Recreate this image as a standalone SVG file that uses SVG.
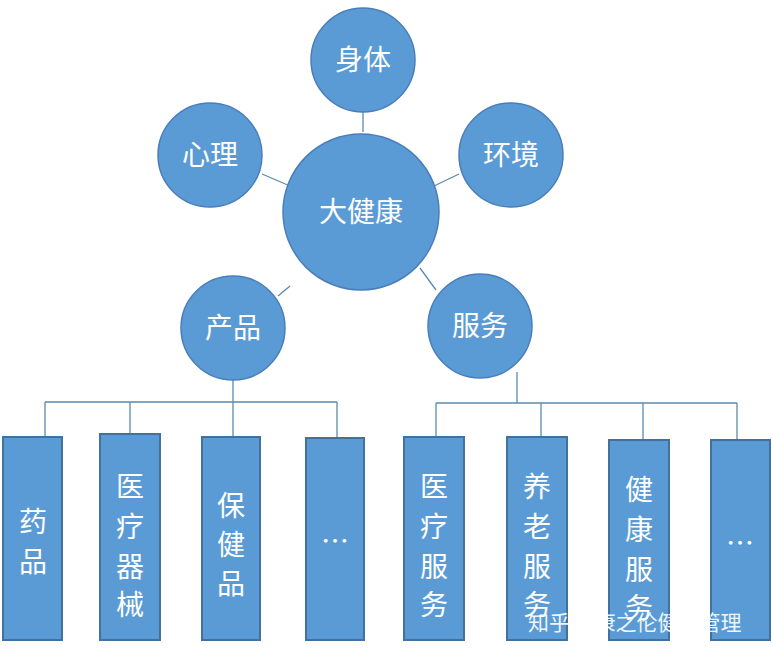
<svg xmlns="http://www.w3.org/2000/svg" width="773" height="653" viewBox="0 0 773 653">
<style>
.c{fill:#5B9BD5;stroke:#4A7EBB;stroke-width:1.5}
.b{fill:#5B9BD5;stroke:#41719C;stroke-width:2}
.t{fill:#fff;font-family:"Noto Sans CJK SC",sans-serif;font-size:28px;text-anchor:middle}
.l{stroke:#5A8AB0;stroke-width:1.3;fill:none}
</style>
<rect width="773" height="653" fill="#fff"/>
<g id="connectors">
<path class="l" d="M363 112V132M262 174L290 186M459 174L434 186M290 286L278 296M420 268L436 290"/>
<path class="l" d="M233 380V402M45 402H337M45 402V437M130 402V434M233 402V437M337 402V438"/>
<path class="l" d="M517 372V403M436 403H737M436 403V437M541 403V437M643 403V440M737 403V440"/>
</g>
<g id="n-shenti"><circle class="c" cx="363" cy="60" r="52"/><text class="t" x="363" y="70">身体</text></g>
<g id="n-xinli"><circle class="c" cx="210" cy="155" r="52"/><text class="t" x="210" y="165">心理</text></g>
<g id="n-huanjing"><circle class="c" cx="511" cy="155" r="52"/><text class="t" x="511" y="165">环境</text></g>
<g id="n-dajiankang"><circle class="c" cx="361" cy="212" r="78"/><text class="t" x="361" y="222">大健康</text></g>
<g id="n-chanpin"><circle class="c" cx="233" cy="328" r="52"/><text class="t" x="233" y="338">产品</text></g>
<g id="n-fuwu"><circle class="c" cx="480" cy="326" r="52"/><text class="t" x="480" y="336">服务</text></g>
<g id="n-yaopin"><rect class="b" x="3" y="437" width="59" height="203"/><text class="t" x="33" y="532">药</text><text class="t" x="33" y="572">品</text></g>
<g id="n-yiliaoqixie"><rect class="b" x="100" y="434" width="60" height="206"/><text class="t" x="130" y="497">医</text><text class="t" x="130" y="537">疗</text><text class="t" x="130" y="577">器</text><text class="t" x="130" y="615">械</text></g>
<g id="n-baojianpin"><rect class="b" x="202" y="437" width="58" height="203"/><text class="t" x="231" y="516">保</text><text class="t" x="231" y="555">健</text><text class="t" x="231" y="594">品</text></g>
<g id="n-more1"><rect class="b" x="306" y="438" width="58" height="202"/><text class="t" x="335" y="552">…</text></g>
<g id="n-yiliaofuwu"><rect class="b" x="404" y="437" width="60" height="203"/><text class="t" x="434" y="497">医</text><text class="t" x="434" y="537">疗</text><text class="t" x="434" y="577">服</text><text class="t" x="434" y="615">务</text></g>
<g id="n-yanglao"><rect class="b" x="507" y="437" width="60" height="203"/><text class="t" x="537" y="497">养</text><text class="t" x="537" y="537">老</text><text class="t" x="537" y="577">服</text><text class="t" x="537" y="615">务</text></g>
<g id="n-jiankangfuwu"><rect class="b" x="609" y="440" width="60" height="200"/><text class="t" x="639" y="500">健</text><text class="t" x="639" y="540">康</text><text class="t" x="639" y="580">服</text><text class="t" x="639" y="618">务</text></g>
<g id="n-more2"><rect class="b" x="711" y="440" width="59" height="200"/><text class="t" x="740" y="554">…</text></g>
<text x="528" y="630" fill="#fff" font-family="Noto Sans CJK SC,sans-serif" font-size="21" opacity="0.9">知乎 @康之伦健康管理</text>
</svg>
